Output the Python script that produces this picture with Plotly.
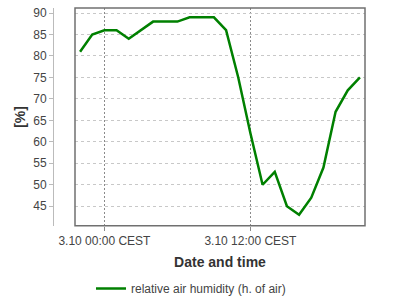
import plotly.graph_objects as go

times = [
    "2023-10-02 22:00", "2023-10-02 23:00", "2023-10-03 00:00", "2023-10-03 01:00",
    "2023-10-03 02:00", "2023-10-03 03:00", "2023-10-03 04:00", "2023-10-03 05:00",
    "2023-10-03 06:00", "2023-10-03 07:00", "2023-10-03 08:00", "2023-10-03 09:00",
    "2023-10-03 10:00", "2023-10-03 11:00", "2023-10-03 12:00", "2023-10-03 13:00",
    "2023-10-03 14:00", "2023-10-03 15:00", "2023-10-03 16:00", "2023-10-03 17:00",
    "2023-10-03 18:00", "2023-10-03 19:00", "2023-10-03 20:00", "2023-10-03 21:00",
]
humidity = [81, 85, 86, 86, 84, 86, 88, 88, 88, 89, 89, 89,
            86, 75, 62, 50, 53, 45, 43, 47, 54, 67, 72, 75]

tick_vals = ["2023-10-03 00:00", "2023-10-03 12:00"]
tick_text = ["3.10 00:00 CEST", "3.10 12:00 CEST"]
x_range = ["2023-10-02 21:35", "2023-10-03 21:25"]
y_range = [40.44, 91.17]

series_name = "relative air humidity (h. of air)"

fig = go.Figure()
fig.add_trace(go.Scatter(
    x=times, y=humidity, mode="lines", name=series_name,
    line=dict(color="#008000", width=2.5),
))

W, H = 400, 300
ml, mr, mt, mb = 53, 35, 6, 67
pw = W - ml - mr
plot_left = 75
dom0 = (plot_left - ml) / pw

fig.update_layout(
    width=W, height=H,
    margin=dict(l=ml, r=mr, t=mt, b=mb, pad=0),
    paper_bgcolor="white", plot_bgcolor="white",
    font=dict(family="Liberation Sans, Arial, sans-serif", size=12, color="#444"),
    showlegend=True,
    legend=dict(orientation="h", x=0.5 - 9 / W, xref="container", xanchor="center",
                y=(H - 288.5) / H, yref="container", yanchor="middle",
                font=dict(size=12, color="#444")),
    xaxis=dict(
        type="date", domain=[dom0, 1], range=x_range,
        tickvals=tick_vals, ticktext=tick_text,
        showgrid=True, gridcolor="#8a8a8a", griddash="2px,2px", gridwidth=1,
        ticks="outside", ticklen=4, tickcolor="#8a8a8a", tickwidth=1,
        showline=False, zeroline=False,
        tickfont=dict(size=12, color="#444"),
        title=dict(text="<b>Date and time</b>", font=dict(size=14, color="#333"), standoff=10),
    ),
    yaxis=dict(
        range=y_range, tick0=45, dtick=5,
        anchor="free", position=0,
        showgrid=True, gridcolor="#c8c8c8", griddash="3px,3px", gridwidth=1,
        ticks="outside", ticklen=4, tickcolor="#bbbbbb", tickwidth=1,
        showline=True, linecolor="#bbbbbb", linewidth=1,
        zeroline=False,
        tickfont=dict(size=12, color="#444"),
        title=dict(text="<b>[%]</b>", font=dict(size=14, color="#333"), standoff=3),
    ),
    shapes=[dict(type="rect", xref="x domain", yref="y domain", x0=0, x1=1, y0=0, y1=1,
                 line=dict(color="#707070", width=1.5), fillcolor="rgba(0,0,0,0)", layer="above")],
)

fig.write_html("out.html")
